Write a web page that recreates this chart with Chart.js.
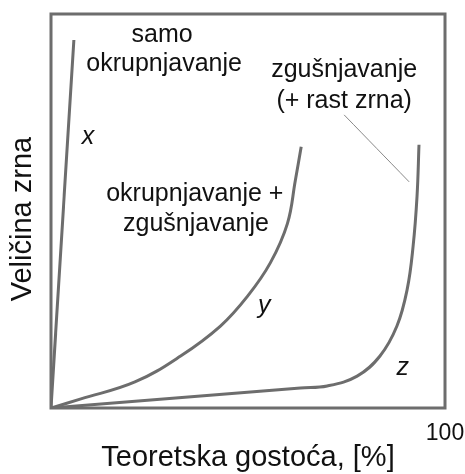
<!DOCTYPE html>
<html>
<head>
<meta charset="utf-8">
<script src="https://cdn.jsdelivr.net/npm/chart.js@4.4.1/dist/chart.umd.min.js"></script>
<style>
    html, body { margin: 0; padding: 0; background: #fff; }
    #wrap { width: 465px; height: 474px; }
</style>
</head>
<body>
<div id="wrap"><canvas id="grain-chart" width="465" height="474"></canvas></div>
<script>
// Curve x: samo okrupnjavanje
const curveX = [
    { x: 0, y: 0 },
    { x: 5.8, y: 93.4 }
];

// Curve y: okrupnjavanje + zgušnjavanje
const curveY = [
    { x: 0, y: 0 },
    { x: 7.6, y: 2.3 },
    { x: 21.3, y: 6.6 },
    { x: 32.9, y: 13.2 },
    { x: 43.0, y: 20.8 },
    { x: 49.9, y: 28.4 },
    { x: 55.7, y: 36.9 },
    { x: 60.0, y: 46.8 },
    { x: 62.0, y: 57.7 },
    { x: 63.5, y: 66.3 }
];

// Curve z: zgušnjavanje (+ rast zrna)
const curveZ = [
    { x: 0, y: 0 },
    { x: 63.3, y: 5.1 },
    { x: 70.1, y: 5.6 },
    { x: 77.7, y: 8.1 },
    { x: 83.5, y: 13.2 },
    { x: 87.8, y: 20.8 },
    { x: 90.4, y: 30.1 },
    { x: 91.9, y: 41.0 },
    { x: 92.9, y: 53.7 },
    { x: 93.4, y: 66.8 }
];

// Leader from the z label to the curve
const leader = [
    { x: 74.4, y: 74.4 },
    { x: 90.9, y: 57.4 }
];

const xTicks = [100];
const xTitle = 'Teoretska gostoća, [%]';
const yTitle = 'Veličina zrna  ';

// Text labels placed inside the plot (data units)
const notes = [
    { text: 'samo', x: 28.2, y: 92.9 },
    { text: 'okrupnjavanje', x: 28.7, y: 85.5 },
    { text: 'x', x: 9.4, y: 67.0, italic: true },
    { text: 'zgušnjavanje', x: 74.4, y: 84.0 },
    { text: '(+ rast zrna)', x: 74.4, y: 76.1 },
    { text: 'okrupnjavanje +', x: 36.5, y: 52.5 },
    { text: 'zgušnjavanje', x: 36.8, y: 44.9 },
    { text: 'y', x: 54.1, y: 24.1, italic: true },
    { text: 'z', x: 89.3, y: 8.4, italic: true }
];

const FONT = '"Liberation Sans", Arial, Helvetica, sans-serif';
const LINE = '#6d6d6d';

const framePlugin = {
    id: 'frame',
    afterDraw(chart) {
        const { ctx, chartArea: a } = chart;
        ctx.save();
        ctx.strokeStyle = LINE;
        ctx.lineWidth = 3;
        ctx.strokeRect(a.left, a.top, a.right - a.left, a.bottom - a.top);
        ctx.restore();
    }
};

const notesPlugin = {
    id: 'notes',
    afterDraw(chart) {
        const { ctx, scales } = chart;
        ctx.save();
        ctx.fillStyle = '#111';
        ctx.textAlign = 'center';
        ctx.textBaseline = 'alphabetic';
        notes.forEach(n => {
            ctx.font = (n.italic ? 'italic ' : '') + '25px ' + FONT;
            ctx.fillText(n.text, scales.x.getPixelForValue(n.x), scales.y.getPixelForValue(n.y));
        });
        ctx.restore();
    }
};

const lineSet = (data, width, color) => ({
    data: data,
    showLine: true,
    borderColor: color,
    borderWidth: width,
    pointRadius: 0,
    tension: 0.4,
    fill: false
});

new Chart(document.getElementById('grain-chart'), {
    type: 'scatter',
    data: {
        datasets: [
            lineSet(curveX, 3, LINE),
            lineSet(curveY, 3, LINE),
            lineSet(curveZ, 3, LINE),
            lineSet(leader, 1, '#888')
        ]
    },
    options: {
        responsive: false,
        animation: false,
        layout: { padding: { top: 14, right: 20, bottom: 0, left: 4 } },
        plugins: { legend: { display: false }, tooltip: { enabled: false } },
        scales: {
            x: {
                type: 'linear',
                min: 0,
                max: 100,
                afterBuildTicks: (scale) => { scale.ticks = xTicks.map(v => ({ value: v })); },
                afterFit: (scale) => {
                    scale.height = 66;
                    scale.paddingLeft = 0;
                    scale.paddingRight = 0;
                },
                grid: { display: false },
                border: { display: false },
                ticks: {
                    color: '#111',
                    padding: 6,
                    maxRotation: 0,
                    font: { family: FONT, size: 23, lineHeight: 1 }
                },
                title: {
                    display: true,
                    text: xTitle,
                    color: '#111',
                    padding: { top: 0, bottom: 2 },
                    font: { family: FONT, size: 29, lineHeight: 1 }
                }
            },
            y: {
                type: 'linear',
                min: 0,
                max: 100,
                grid: { display: false },
                border: { display: false },
                ticks: { display: false },
                title: {
                    display: true,
                    text: yTitle,
                    color: '#111',
                    padding: { top: 4, bottom: 6 },
                    font: { family: FONT, size: 29, lineHeight: 1 }
                }
            }
        }
    },
    plugins: [framePlugin, notesPlugin]
});
</script>
</body>
</html>
